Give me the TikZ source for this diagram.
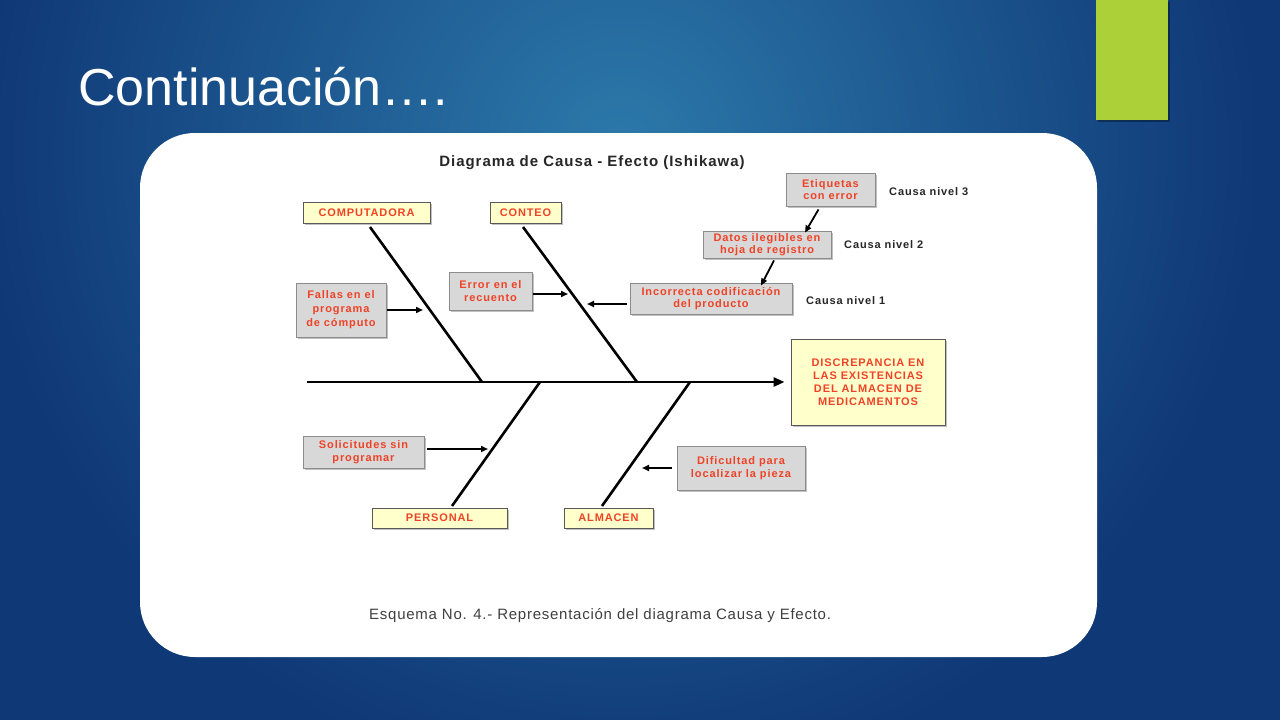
\documentclass[tikz,border=0pt]{standalone}
\usepackage{fontspec}
\setmainfont{Liberation Sans}
\newfontfamily\dfont[LetterSpace=8]{Liberation Sans Bold}
\newfontfamily\tfont[LetterSpace=6.5]{Liberation Sans Bold}
\newfontfamily\cfont[LetterSpace=5]{Liberation Sans}
\usetikzlibrary{arrows.meta,shadows}
\definecolor{bgdark}{RGB}{15,56,118}
\definecolor{bglight}{RGB}{44,121,170}
\definecolor{lime}{RGB}{172,208,56}
\definecolor{redtxt}{RGB}{240,66,38}
\definecolor{ybox}{RGB}{255,255,204}
\definecolor{gbox}{RGB}{216,216,216}
\tikzset{
  box/.style={draw=black!65, line width=0.9pt, inner sep=0pt, align=center,
    text=redtxt, font=\dfont\fontsize{11}{12.5}\selectfont,
    drop shadow={shadow xshift=2pt, shadow yshift=-2pt, fill=black!40, opacity=0.6}},
  ybox/.style={box, fill=ybox},
  gbox/.style={box, fill=gbox, draw=black!45},
  bone/.style={line width=2.6pt, black},
  sub/.style={line width=1.8pt, black, -{Triangle[length=7pt,width=6pt]}},
  lvl/.style={anchor=west, inner sep=0pt, font=\dfont\fontsize{11}{12}\selectfont, text=black!85}
}
\begin{document}
\begin{tikzpicture}[x=1pt,y=-1pt]
\useasboundingbox (0,0) rectangle (1280,720);
\begin{scope}
\clip (0,0) rectangle (1280,720);
\fill[bgdark] (0,0) rectangle (1280,720);
\shade[inner color=bglight, outer color=bgdark] (620,150) circle (640);
\end{scope}
% green bar
\fill[lime, drop shadow={shadow xshift=2pt, shadow yshift=-2pt, fill=black, opacity=0.35}] (1096,0) rectangle (1168,120);
% title
\node[anchor=base west, text=white, font=\fontsize{52}{60}\selectfont, inner sep=0pt] (title) at (78,105) {Continuación….};
% white panel
\fill[white, rounded corners=55pt] (140,133) rectangle (1097,657);
% diagram title
\node[font=\tfont\fontsize{15}{17}\selectfont, text=black!85] (dtitle) at (592,163) {Diagrama de Causa - Efecto (Ishikawa)};
% boxes
\node[ybox, minimum width=127pt, minimum height=21pt] (comp) at (366.5,212.5) {COMPUTADORA};
\node[ybox, minimum width=71pt, minimum height=21pt] (conteo) at (525.5,212.5) {CONTEO};
\node[gbox, minimum width=89pt, minimum height=33pt] (etiq) at (830.5,189.5) {Etiquetas\\con error};
\node[gbox, minimum width=128pt, minimum height=27pt, font=\dfont\fontsize{11}{12}\selectfont] (datos) at (767,244.5) {Datos ilegibles en\\hoja de registro};
\node[gbox, minimum width=162pt, minimum height=31pt] (incorr) at (711,298.5) {Incorrecta codificación\\del producto};
\node[gbox, minimum width=83pt, minimum height=38pt] (error) at (490.5,291) {Error en el\\recuento};
\node[gbox, minimum width=90pt, minimum height=54pt, font=\dfont\fontsize{11}{14}\selectfont] (fallas) at (341,310) {Fallas en el\\programa\\de cómputo};
\node[ybox, minimum width=154pt, minimum height=86pt, font=\dfont\fontsize{11}{13}\selectfont] (efecto) at (868,382) {DISCREPANCIA EN\\LAS EXISTENCIAS\\DEL ALMACEN DE\\MEDICAMENTOS};
\node[gbox, minimum width=121pt, minimum height=32pt] (solic) at (363.5,452) {Solicitudes sin\\programar};
\node[gbox, minimum width=128pt, minimum height=44pt, font=\dfont\fontsize{11}{13.5}\selectfont] (dific) at (741,468) {Dificultad para\\localizar la pieza};
\node[ybox, minimum width=135pt, minimum height=20pt] (personal) at (439.5,518) {PERSONAL};
\node[ybox, minimum width=89pt, minimum height=20pt] (almacen) at (608.5,518) {ALMACEN};
% level labels
\node[lvl] (l3) at (889,192) {Causa nivel 3};
\node[lvl] (l2) at (844,245) {Causa nivel 2};
\node[lvl] (l1) at (806,301) {Causa nivel 1};
% coordinates
\coordinate (s0) at (307,382);
\coordinate (t1) at (370,227); \coordinate (b1) at (482,382);
\coordinate (t2) at (523,227); \coordinate (b2) at (637,382);
\coordinate (t3) at (452,506); \coordinate (b3) at (540,382);
\coordinate (t4) at (602,506); \coordinate (b4) at (690,382);
\coordinate (a1) at (423,310);
\coordinate (a2) at (568,294);
\coordinate (a3) at (587,304);
\coordinate (a4) at (488,449);
\coordinate (a5) at (642,468);
% spine
\draw[bone, -{Triangle[length=11pt,width=9pt]}] (s0) -- ([xshift=-6pt]efecto.west);
% bones
\draw[bone] (t1) -- (b1);
\draw[bone] (t2) -- (b2);
\draw[bone] (t3) -- (b3);
\draw[bone] (t4) -- (b4);
% sub-causes
\draw[sub] ([xshift=1pt]fallas.east) -- (a1);
\draw[sub] ([xshift=1pt,yshift=-3pt]error.east) -- (a2);
\draw[sub] ([xshift=-3pt,yshift=-5.5pt]incorr.west) -- (a3);
\draw[sub] ([xshift=3pt,yshift=3pt]solic.east) -- (a4);
\draw[sub] ([xshift=-5pt]dific.west) -- (a5);
\draw[sub] ([xshift=-12pt,yshift=-3pt]etiq.south) -- ([xshift=38pt,yshift=-2pt]datos.north);
\draw[sub] ([xshift=7pt,yshift=-2pt]datos.south) -- ([xshift=50pt,yshift=-3pt]incorr.north);
% caption
\node[anchor=west, font=\cfont\fontsize{15}{17}\selectfont, text=black!75, inner sep=0pt] (cap) at (369,616) {Esquema No. 4.- Representación del diagrama Causa y Efecto.};
\end{tikzpicture}
\end{document}
